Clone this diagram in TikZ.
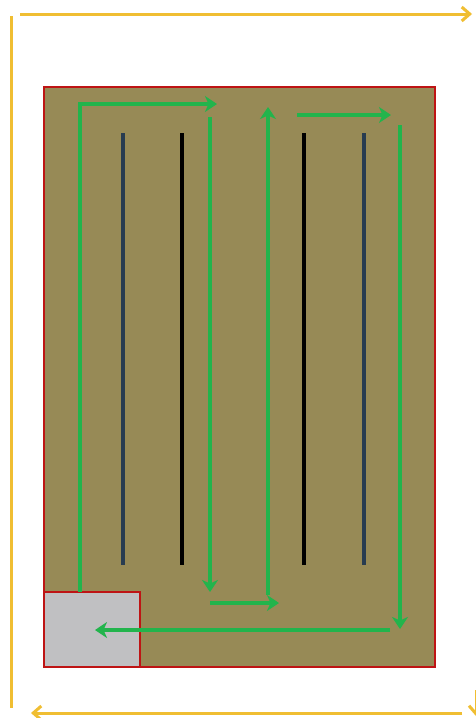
\documentclass[tikz,border=0pt]{standalone}
\usepackage{tikz}
\usetikzlibrary{arrows.meta}

\definecolor{fieldbrown}{RGB}{151,138,86}
\definecolor{edgered}{RGB}{190,20,20}
\definecolor{pathgreen}{RGB}{34,180,76}
\definecolor{bordergold}{RGB}{240,190,50}
\definecolor{rowblue}{RGB}{40,60,80}
\definecolor{basegray}{RGB}{192,192,194}

\tikzset{
  field/.style={draw=edgered, line width=2.5pt, fill=fieldbrown},
  base/.style={draw=edgered, line width=2.5pt, fill=basegray},
  row/.style={line width=3.5pt},
  route/.style={draw=pathgreen, line width=4.2pt, -{Stealth[length=12pt,width=16pt,inset=3.5pt]}},
  frame/.style={draw=bordergold, line width=3pt, -{Straight Barb[length=8pt,width=14pt,line width=3pt]}},
}

\begin{document}
\begin{tikzpicture}[x=1pt, y=-1pt]
  \useasboundingbox (0,0) rectangle (475,718);
  \fill[white] (0,0) rectangle (475,718);

  % Outer frame
  \draw[frame] (20,14) -- (472,14);
  \draw[bordergold, line width=3pt] (11,16) -- (11,708);
  \draw[frame] (462,713) -- (31,713);
  \draw[frame] (476,690) -- (476,716);

  % Field and base
  \draw[field] (44,87) rectangle (435,667);
  \draw[base] (44,592) rectangle (140,667);

  % Rows
  \draw[row, rowblue] (123,133) -- (123,565);
  \draw[row, black] (182,133) -- (182,565);
  \draw[row, black] (304,133) -- (304,565);
  \draw[row, rowblue] (364,133) -- (364,565);

  % Route
  \coordinate (start) at (80,592);
  \draw[route] (start) -- (80,104) -- (217,104);
  \draw[route] (210,117) -- (210,592);
  \draw[route] (210,603) -- (279,603);
  \draw[route] (268,595) -- (268,107);
  \draw[route] (297,115) -- (391,115);
  \draw[route] (400,125) -- (400,629);
  \draw[route] (390,630) -- (95,630);
\end{tikzpicture}
\end{document}
